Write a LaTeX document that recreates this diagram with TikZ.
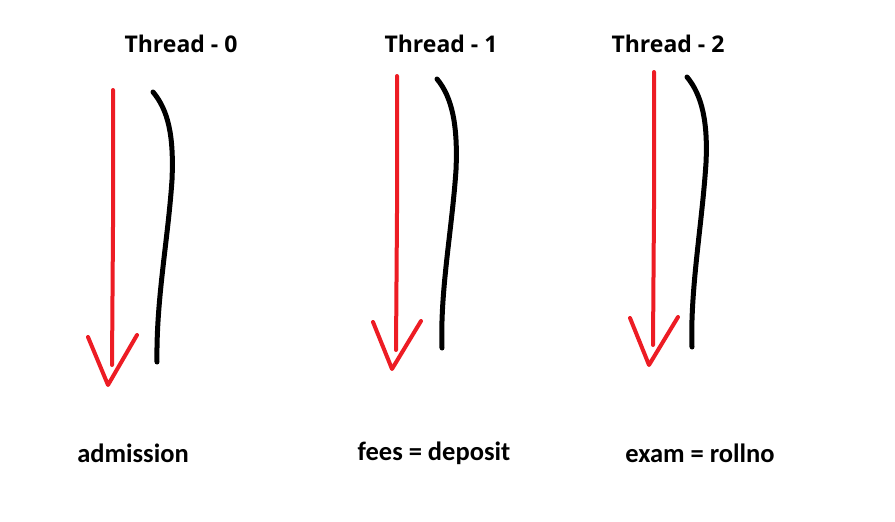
\documentclass[tikz,border=0pt]{standalone}
\usepackage{fontspec}
\setmainfont{Open Sans}
\newfontfamily\labelfont{Carlito}
\usetikzlibrary{positioning}

\begin{document}
\begin{tikzpicture}[
    x=1pt, y=-1pt,
    title/.style={font=\fontsize{23}{26}\selectfont\bfseries, inner sep=0pt},
    varlabel/.style={font=\labelfont\fontsize{26.5}{30}\selectfont\bfseries, inner sep=0pt},
    flow/.style={draw={rgb,255:red,237;green,28;blue,36}, line width=4pt, line cap=round, line join=round},
    trace/.style={draw=black, line width=5pt, line cap=round, line join=round}
]
\useasboundingbox[fill=white] (0,0) rectangle (895,522);

% Titles
\node (thread0) [title] at (181,44) {Thread - 0};
\node (thread1) [title] at (441,44) {Thread - 1};
\node (thread2) [title] at (668,44) {Thread - 2};

% Thread 0
\draw [flow] (113,90) -- (113,227) -- (112,365);
\draw [flow] (88,337) -- (108,385) -- (137,335);
\draw [trace] (153,92) .. controls (168,110) and (174,135) .. (172,180)
                       .. controls (168,240) and (156,300) .. (157,362);

% Thread 1
\draw [flow] (397,76) -- (397,213) -- (396,350);
\draw [flow] (373,322) -- (392,369) -- (421,321);
\draw [trace] (437,79) .. controls (452,97) and (458,125) .. (456,170)
                       .. controls (452,230) and (440,290) .. (442,348);

% Thread 2
\draw [flow] (654,72) -- (654,208) -- (653,345);
\draw [flow] (630,318) -- (649,365) -- (678,317);
\draw [trace] (687,77) .. controls (702,95) and (708,122) .. (706,163)
                       .. controls (702,225) and (690,290) .. (692,347);

% Shared variables
\node (admission) [varlabel] at (133,453) {admission};
\node (fees) [varlabel] at (434,453) {fees = deposit};
\node (exam) [varlabel] at (700,453) {exam = rollno};
\end{tikzpicture}
\end{document}
